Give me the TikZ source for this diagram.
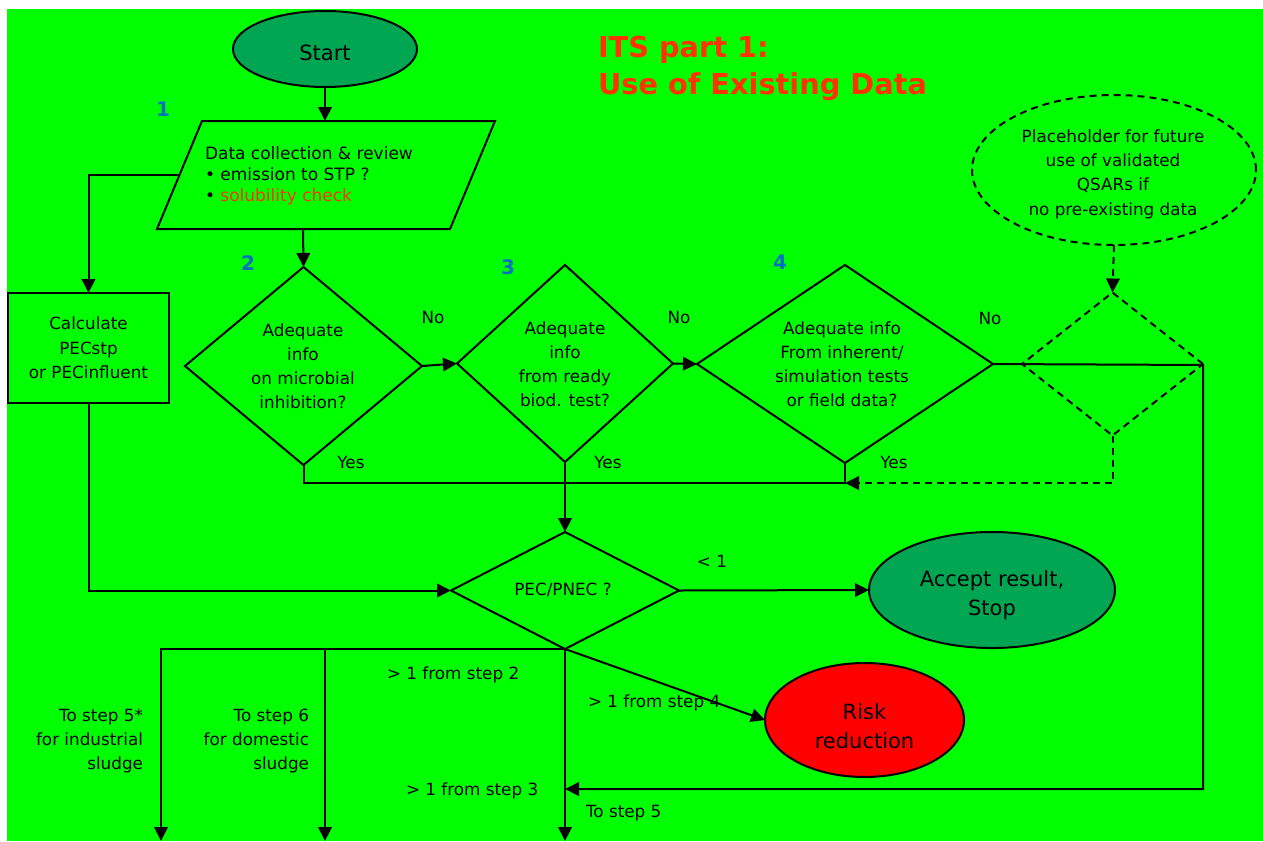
\documentclass[tikz,border=0pt]{standalone}
\usepackage{fontspec}
\setmainfont{DejaVu Sans}
\usetikzlibrary{shapes.geometric,arrows.meta}
\definecolor{bg}{RGB}{0,255,0}
\definecolor{darkgreen}{RGB}{0,166,81}
\definecolor{titlered}{RGB}{255,51,0}
\definecolor{numblue}{RGB}{0,112,192}
\begin{document}
\begin{tikzpicture}[x=1pt,y=-1pt,
  every node/.style={font=\fontsize{16.8}{24}\selectfont, inner sep=0pt, outer sep=0pt},
  ln/.style={line width=2pt},
  arr/.style={ln,-{Triangle[length=14pt,width=13.5pt]}},
  dsh/.style={dash pattern=on 7pt off 5pt},
  bigtxt/.style={font=\fontsize{21}{29}\selectfont, align=center},
  num/.style={font=\fontsize{20}{22}\selectfont\bfseries, text=numblue},
  shp/.style={draw, ln}]
\fill[white] (0,0) rectangle (1263,841);
\fill[bg] (7,9) rectangle (1263,841);
\useasboundingbox (0,0) rectangle (1263,841);

% title
\node[anchor=west, align=left, text=titlered, font=\fontsize{28.8}{37}\selectfont\bfseries] (title) at (598,68) {ITS part 1:\\Use of Existing Data};

% start
\node[shp, ellipse, fill=darkgreen, minimum width=184pt, minimum height=76pt] (start) at (325,49) {};
\node[bigtxt] (startt) at (325,53) {Start};

% parallelogram
\draw[ln] (202,121) -- (495,121) -- (450,229) -- (157,229) -- cycle;
\coordinate (ptop) at (325,121);
\coordinate (pbot) at (303,229);
\coordinate (pleft) at (179.5,175);
\node[anchor=west, align=left, font=\fontsize{17}{20.8}\selectfont] (ptext) at (205,176) {Data collection \& review\\• emission to STP ?\\• \textcolor{titlered}{solubility check}};

% calc box
\node[shp, minimum width=161pt, minimum height=110pt, align=center, font=\fontsize{16.8}{24.5}\selectfont] (calc) at (88.5,348) {Calculate\\PECstp\\or PECinfluent};

% diamonds
\node[shp, diamond, minimum width=237pt, minimum height=198pt] (d2) at (303.5,366) {};
\node[align=center] (d2t) at (303,366) {Adequate\\info\\on microbial\\inhibition?};
\node[shp, diamond, minimum width=216pt, minimum height=197pt] (d3) at (565,363.5) {};
\node[align=center] (d3t) at (565,364) {Adequate\\info\\from ready\\biod. test?};
\node[shp, diamond, minimum width=296pt, minimum height=198pt] (d4) at (845,364) {};
\node[align=center] (d4t) at (842,364) {Adequate info\\From inherent/\\simulation tests\\or field data?};
\node[shp, dsh, diamond, minimum width=181pt, minimum height=143pt] (dq) at (1112.5,364) {};
\node[shp, diamond, minimum width=228pt, minimum height=117pt] (pec) at (565,590.5) {};
\node (pect) at (563,590) {PEC/PNEC ?};

% ellipses
\node[shp, dsh, ellipse, minimum width=284pt, minimum height=150pt] (ph) at (1114,170) {};
\node[align=center, font=\fontsize{16.8}{24.3}\selectfont] (pht) at (1113,174) {Placeholder for future\\use of validated\\QSARs if\\no pre-existing data};
\node[shp, ellipse, fill=darkgreen, minimum width=246pt, minimum height=116pt] (accept) at (992,590) {};
\node[bigtxt] (acceptt) at (992,595) {Accept result,\\Stop};
\node[shp, ellipse, fill=red, minimum width=199pt, minimum height=114pt] (risk) at (864.5,720) {};
\node[bigtxt] (riskt) at (864.5,726) {Risk\\reduction};

% numbers
\node[num] (n1) at (163,109) {1};
\node[num] (n2) at (248,263) {2};
\node[num] (n3) at (508,267) {3};
\node[num] (n4) at (780,262) {4};

% labels
\node (no2) at (433,317) {No};
\node (no3) at (679,317) {No};
\node (no4) at (990,318) {No};
\node (yes2) at (351,462) {Yes};
\node (yes3) at (608,462) {Yes};
\node (yes4) at (894,462) {Yes};
\node (lt1) at (712,561) {< 1};
\node[anchor=west] (g2) at (387,675) {> 1 from step 2};
\node[anchor=west] (g4) at (588,703) {> 1 from step 4};
\node[anchor=west] (g3) at (406,791) {> 1 from step 3};
\node[anchor=west] (ts5) at (586,813) {To step 5};
\node[anchor=east, align=right] (ts5s) at (143,741) {To step 5*\\for industrial\\sludge};
\node[anchor=east, align=right] (ts6) at (309,741) {To step 6\\for domestic\\sludge};

% coordinates
\coordinate (yr) at (845,483);
\coordinate (rc) at (1203,365);
\coordinate (s3) at (565,789);
\coordinate (o1) at (161,841);
\coordinate (o2) at (325,841);
\coordinate (o3) at (565,841);

% connectors
\draw[arr] (start) -- (ptop);
\draw[arr] (pleft) -| (calc.north);
\draw[arr] (pbot) -- (d2.north);
\draw[arr] (d2.east) -- (d3.west);
\draw[arr] (d3.east) -- (d4.west);
\draw[ln] (d2.south) |- (yr) -- (d4.south);
\draw[arr] (d3.south) -- (pec.north);
\draw[arr, dsh] (ph.south) -- (dq.north);
\draw[arr, dsh] (dq.south) |- (yr);
\draw[arr] (d4.east) -- (rc) |- (s3);
\draw[arr] (calc.south) |- (pec.west);
\draw[arr] (pec.east) -- (accept.west);
\draw[arr] (pec.south) -- (risk.west);
\draw[arr] (pec.south) -| (o1);
\draw[arr] (o2 |- pec.south) -- (o2);
\draw[arr] (pec.south) -- (o3);
\end{tikzpicture}
\end{document}
